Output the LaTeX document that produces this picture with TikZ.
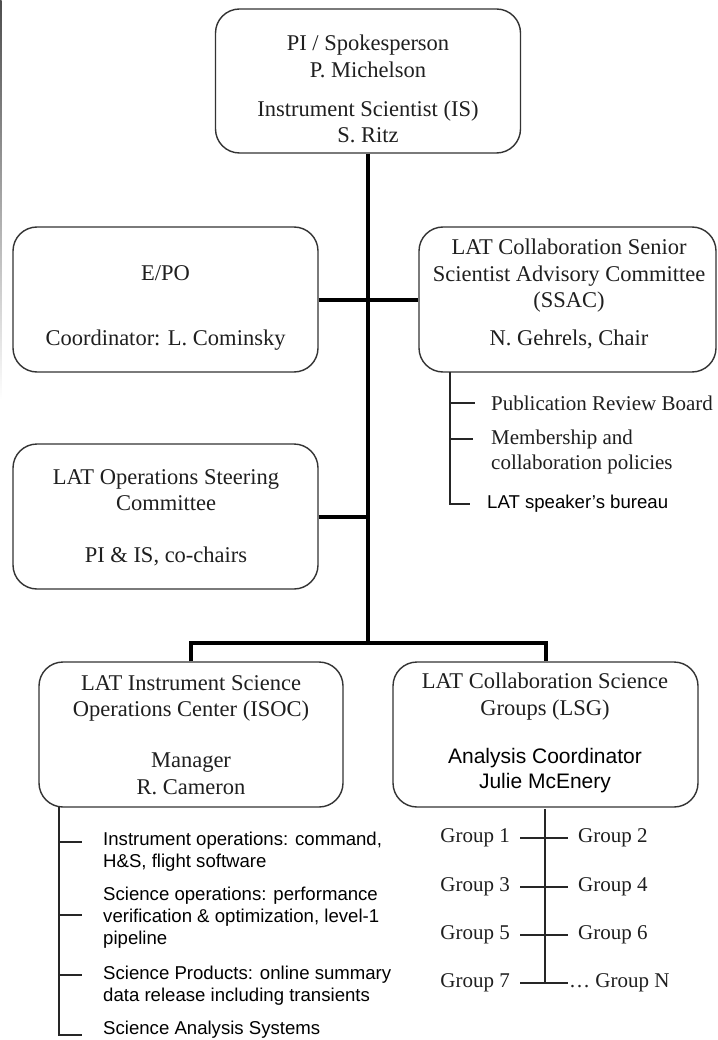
\documentclass[tikz,border=0pt]{standalone}
\usepackage{fontspec}
\setmainfont{Liberation Serif}
\newfontfamily\sansf{Liberation Sans}
\begin{document}
\begin{tikzpicture}[x=1pt,y=-1pt,
  txt/.style={text=black!88},
  box/.style={draw=black!80,line width=1.4pt,rounded corners=24pt,fill=none,inner sep=0pt},
  sertxt/.style={txt,font=\fontsize{22.5}{26.5}\selectfont,align=center,inner sep=0pt},
  smallser/.style={txt,font=\fontsize{21}{25}\selectfont,inner sep=0pt},
  sanstxt/.style={text=black,font=\sansf\fontsize{18.6}{22}\selectfont,align=left,inner sep=0pt},
  trunk/.style={line width=4pt,black},
  lst/.style={line width=1.3pt,black!85}]
\useasboundingbox (0,0) rectangle (717,1040);
\fill[white] (0,0) rectangle (717,1040);
% left edge scan shadow
\shade[top color=black!70,bottom color=white] (0,0) rectangle (1.6,400);

% boxes
\node[box,minimum width=305pt,minimum height=144pt] (top) at (368,81) {};
\node[box,minimum width=305pt,minimum height=145pt] (epo) at (165.5,299.5) {};
\node[box,minimum width=297pt,minimum height=145pt] (ssac) at (567.5,299.5) {};
\node[box,minimum width=305pt,minimum height=145pt] (ops) at (165.5,516.5) {};
\node[box,minimum width=304pt,minimum height=145pt] (isoc) at (191,734.5) {};
\node[box,minimum width=305pt,minimum height=145pt] (lsg) at (545.5,734.5) {};

% box texts
\node[sertxt] (toptxt) at (368,89) {PI / Spokesperson\\P. Michelson\\[12.5pt]Instrument Scientist (IS)\\S. Ritz};
\node[sertxt] (epotxt) at (165.5,307.5) {E/PO\\[38.5pt]Coordinator: L. Cominsky};
\node[sertxt] (ssactxt) at (569,294) {LAT Collaboration Senior\\Scientist Advisory Committee\\(SSAC)\\[11pt]N. Gehrels, Chair};
\node[sertxt] (opstxt) at (166,517.5) {LAT Operations Steering\\Committee\\[25pt]PI \& IS, co-chairs};
\node[sertxt] (isoctxt) at (191,735) {LAT Instrument Science\\Operations Center (ISOC)\\[24.5pt]Manager\\R. Cameron};
\node[sertxt] (lsgtxt) at (545,696.5) {LAT Collaboration Science\\Groups (LSG)};
\node[sanstxt,align=center,font=\sansf\fontsize{21}{25}\selectfont] (lsgcoord) at (545,770.5) {Analysis Coordinator\\Julie McEnery};

% trunk connectors
\coordinate (jn) at (368,643);
\draw[trunk] (top.south) -- (jn);
\draw[trunk] (epo.east) -- (ssac.west);
\draw[trunk] (ops.east) -- (ops.east -| jn);
\draw[trunk,line join=miter] (isoc.north) |- (jn) -| (lsg.north);

% SSAC list
\node[smallser,anchor=west] (p1) at (491,403) {Publication Review Board};
\node[smallser,anchor=west,align=left] (p2) at (491,451.5) {Membership and\\collaboration policies};
\node[sanstxt,anchor=west] (p3) at (487,504) {LAT speaker’s bureau};
\coordinate (s0) at (450,372);
\coordinate (s3) at (470,504);
\draw[lst] (s0) |- (s3);
\draw[lst] (s0 |- p1.west) -- ++(25,0);
\draw[lst] (450,439) -- (473,439);

% ISOC list
\node[sanstxt,anchor=west] (i1) at (103,851.5) {Instrument operations: command,\\H\&S, flight software};
\node[sanstxt,anchor=west] (i2) at (103,917.5) {Science operations: performance\\verification \& optimization, level-1\\pipeline};
\node[sanstxt,anchor=west] (i3) at (103,985.5) {Science Products: online summary\\data release including transients};
\node[sanstxt,anchor=west] (i4) at (103,1030) {Science Analysis Systems};
\coordinate (l0) at (59,807);
\coordinate (l4) at (82,1035);
\draw[lst] (l0) |- (l4);
\draw[lst] (59,842) -- (82,842);
\draw[lst] (59,915) -- (82,915);
\draw[lst] (59,975) -- (82,975);

% LSG groups
\coordinate (g0) at (545,809);
\coordinate (g7) at (545,983);
\draw[lst] (g0) -- (g7);
\node[smallser,anchor=east] (gr1) at (510,838) {Group 1};
\node[smallser,anchor=west] (gr2) at (578,838) {Group 2};
\node[smallser,anchor=east] (gr3) at (510,887) {Group 3};
\node[smallser,anchor=west] (gr4) at (578,887) {Group 4};
\node[smallser,anchor=east] (gr5) at (510,935) {Group 5};
\node[smallser,anchor=west] (gr6) at (578,935) {Group 6};
\node[smallser,anchor=east] (gr7) at (510,983) {Group 7};
\node[smallser,anchor=west] (grn) at (569,983) {\dots\ Group N};
\draw[lst] (520,838) -- (568,838);
\draw[lst] (520,887) -- (568,887);
\draw[lst,line width=2.4pt] (520,935) -- (568,935);
\draw[lst] (520,983) -- (568,983);
\end{tikzpicture}
\end{document}
